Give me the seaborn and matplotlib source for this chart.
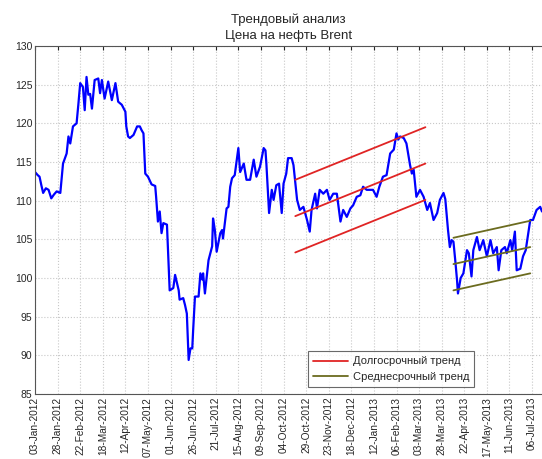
import matplotlib
matplotlib.use("Agg")
import matplotlib.pyplot as plt
import matplotlib.dates as mdates
import numpy as np
import pandas as pd
import seaborn as sns

# Brent price: days since 03-Jan-2012 and USD/bbl
start = pd.Timestamp("2012-01-03")
day_offset = [0, 3, 5, 7, 9, 12, 15, 18, 21, 24, 28, 31, 35, 37, 39, 42, 46, 48, 50, 53,
              55, 57, 59, 61, 63, 66, 70, 72, 74, 77, 81, 85, 89, 92, 96, 100, 101, 103, 105, 109,
              113, 116, 118, 120, 122, 125, 129, 133, 134, 136, 138, 140, 142, 146, 149, 153, 155, 159, 160, 164,
              166, 168, 170, 172, 174, 175, 177, 181, 183, 185, 186, 188, 192, 194, 196, 197, 199, 201, 205, 207,
              208, 212, 214, 216, 218, 221, 225, 227, 231, 234, 238, 242, 245, 249, 253, 255, 256, 259, 262, 264,
              267, 270, 273, 275, 278, 280, 284, 286, 290, 293, 297, 301, 304, 306, 310, 312, 315, 319, 323, 326,
              330, 334, 338, 341, 345, 349, 352, 356, 360, 363, 367, 370, 374, 378, 381, 385, 389, 393, 397, 400,
              402, 404, 408, 411, 415, 417, 419, 422, 426, 430, 434, 437, 441, 445, 448, 452, 454, 457, 459, 461,
              463, 465, 467, 468, 471, 474, 478, 480, 483, 485, 489, 492, 496, 500, 504, 507, 511, 513, 516, 520,
              522, 526, 528, 531, 533, 537, 540, 543, 548, 551, 555, 559, 561]
price = [113.7, 113.3, 113.1, 112.0, 111.0, 111.6, 111.4, 110.3, 110.8, 111.2, 111.0, 114.8, 116.1, 118.3, 117.4, 119.6, 120.0, 122.5, 125.2, 124.7,
         121.7, 126.0, 123.7, 123.8, 121.9, 125.6, 125.8, 123.9, 125.6, 123.2, 125.4, 123.0, 125.2, 122.8, 122.4, 121.5, 119.6, 118.3, 118.1, 118.5,
         119.6, 119.6, 119.1, 118.7, 113.5, 113.1, 112.1, 111.9, 110.5, 107.3, 108.6, 105.8, 107.1, 106.9, 98.4, 98.7, 100.4, 98.4, 97.2, 97.4,
         96.5, 95.4, 89.4, 90.9, 90.9, 93.3, 97.6, 97.6, 100.6, 99.8, 100.6, 98.0, 102.3, 103.2, 104.1, 107.7, 106.2, 103.4, 105.8, 106.2,
         105.1, 109.0, 109.2, 111.8, 112.9, 113.3, 116.8, 113.7, 114.8, 112.7, 112.7, 115.3, 113.1, 114.4, 116.8, 116.5, 114.8, 108.4, 111.4, 110.1,
         112.0, 112.2, 108.4, 112.2, 113.5, 115.5, 115.5, 114.6, 110.1, 108.8, 109.2, 107.5, 106.0, 108.8, 110.9, 109.0, 111.4, 110.9, 111.4, 110.1,
         110.9, 110.9, 107.3, 108.8, 107.9, 109.0, 109.4, 110.5, 110.7, 111.8, 111.4, 111.4, 111.4, 110.5, 111.8, 113.1, 113.3, 116.1, 116.6, 118.7,
         117.9, 118.3, 118.1, 117.4, 114.6, 113.5, 114.0, 110.5, 111.4, 110.5, 108.8, 109.7, 107.5, 108.4, 110.1, 111.0, 110.2, 106.2, 104.0, 104.9,
         104.7, 102.3, 99.7, 98.0, 100.0, 100.6, 103.6, 103.2, 100.2, 103.6, 105.3, 103.6, 104.9, 102.8, 104.9, 103.2, 104.0, 101.0, 103.6, 104.0,
         103.2, 104.9, 103.6, 106.0, 101.0, 101.2, 102.8, 103.6, 107.5, 107.5, 108.8, 109.2, 108.6]

# trend channels: (start day, end day), centre line values, channel half-width
long_days = [288, 432]
long_mid = [108.0, 114.8]
long_width = 4.7
mid_days = [463, 548]
mid_mid = [101.8, 104.0]
mid_width = 3.4

df = pd.DataFrame({"date": start + pd.to_timedelta(day_offset, unit="D"), "price": price})

sns.set_style("white")
plt.rcParams["font.family"] = ["Liberation Sans", "DejaVu Sans"]

fig = plt.figure(figsize=(5.42, 4.59), dpi=100)
ax = fig.add_axes([0.0646, 0.1416, 0.9354, 0.7582])

sns.lineplot(data=df, x="date", y="price", color="#0000ff", linewidth=1.6, ax=ax)

for days, mid, w, color, label in [(long_days, long_mid, long_width, "#e02424", "Долгосрочный тренд"),
                                   (mid_days, mid_mid, mid_width, "#6b6b1f", "Среднесрочный тренд")]:
    d = start + pd.to_timedelta(days, unit="D")
    for k, off in enumerate([w, 0, -w]):
        ax.plot(d, np.array(mid) + off, color=color, linewidth=1.3, label=label if k == 0 else None)

ticks = [start + pd.Timedelta(days=25 * i) for i in range(23)]
ax.set_xticks(ticks)
ax.xaxis.set_major_formatter(mdates.DateFormatter("%d-%b-%Y"))
ax.set_xlim(start, start + pd.Timedelta(days=561))
ax.set_ylim(85, 130)
ax.set_yticks(range(85, 131, 5))
ax.tick_params(axis="x", labelrotation=90, labelsize=7.3, direction="in", top=True, length=3, pad=2)
ax.tick_params(axis="y", labelsize=7.5, direction="in", length=3, pad=2)
ax.grid(True, linestyle=":", color="#c8c8c8", linewidth=0.8)
ax.set_xlabel("")
ax.set_ylabel("")
for s in ["left", "top", "bottom"]:
    ax.spines[s].set_color("#555555")
    ax.spines[s].set_linewidth(0.8)
ax.spines["right"].set_visible(False)

ax.set_title("Трендовый анализ\nЦена на нефть Brent", fontsize=9.5, pad=5, linespacing=1.45)
leg = ax.legend(loc="lower left", bbox_to_anchor=(0.5375, 0.02), borderaxespad=0, fontsize=8,
                frameon=True, fancybox=False, edgecolor="#444444", handlelength=3.2, handletextpad=0.4,
                borderpad=0.45, labelspacing=0.5)
leg.get_frame().set_linewidth(0.8)

fig.savefig("out.png", dpi=100)
